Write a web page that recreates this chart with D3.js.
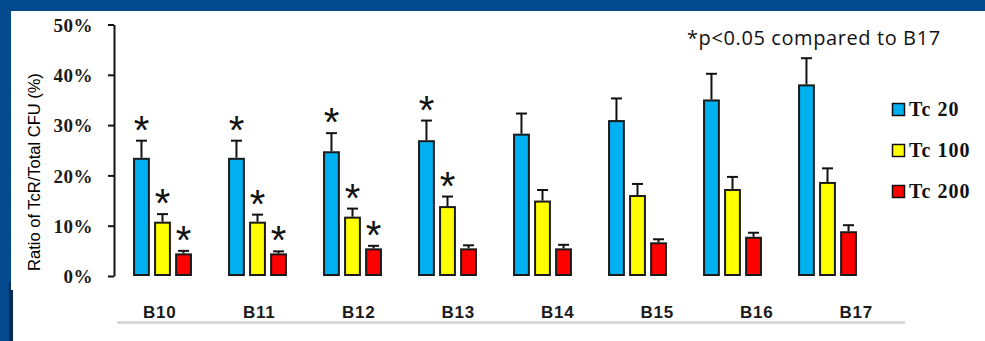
<!DOCTYPE html>
<html>
<head>
<meta charset="utf-8">
<script src="https://cdn.jsdelivr.net/npm/d3@7"></script>
<style>
  html, body { margin: 0; padding: 0; background: #02498e; }
  svg { display: block; }
</style>
</head>
<body>
<svg id="chart" width="985" height="341"></svg>
<script>
// ---- data ----
const categories = ["B10", "B11", "B12", "B13", "B14", "B15", "B16", "B17"];
const seriesNames = ["Tc 20", "Tc 100", "Tc 200"];
const tc20 = [23.3, 23.3, 24.6, 26.8, 28.1, 30.8, 34.9, 37.9];
const tc20Err = [3.6, 3.6, 3.8, 4.1, 4.2, 4.5, 5.3, 5.4];
const tc100 = [10.6, 10.6, 11.6, 13.7, 14.8, 15.9, 17.1, 18.5];
const tc100Err = [1.7, 1.6, 1.8, 2.1, 2.3, 2.4, 2.6, 2.9];
const tc200 = [4.3, 4.3, 5.3, 5.3, 5.3, 6.5, 7.6, 8.7];
const tc200Err = [0.7, 0.6, 0.7, 0.8, 0.9, 0.8, 1.0, 1.4];
const tc20Sig = [true, true, true, true, false, false, false, false];
const tc100Sig = [true, true, true, true, false, false, false, false];
const tc200Sig = [true, true, true, false, false, false, false, false];
const yTicks = [0, 10, 20, 30, 40, 50];
const yTitle = "Ratio of TcR/Total CFU (%)";
const note = "*p<0.05 compared to B17";

const colors = ["#00b0f0", "#ffff00", "#ff0000"];
const values = [tc20, tc100, tc200];
const errs = [tc20Err, tc100Err, tc200Err];
const sigs = [tc20Sig, tc100Sig, tc200Sig];

const rows = [];
categories.forEach((c, i) => {
  seriesNames.forEach((s, j) => {
    rows.push({cat: c, series: s, idx: j, value: values[j][i], err: errs[j][i], sig: sigs[j][i]});
  });
});

const svg = d3.select("#chart");

// ---- background panels ----
svg.append("rect").attr("x", 0).attr("y", 0).attr("width", 985).attr("height", 341).attr("fill", "#02498e");
svg.append("rect").attr("x", 9).attr("y", 282).attr("width", 5).attr("height", 59).attr("fill", "#0b2c52");
svg.append("rect").attr("x", 11).attr("y", 11).attr("width", 974).attr("height", 279).attr("fill", "#ffffff");
svg.append("rect").attr("x", 13).attr("y", 282).attr("width", 972).attr("height", 59).attr("fill", "#ffffff");

// ---- scales ----
const y = d3.scaleLinear().domain([0, 50]).range([276, 24.5]);
const x0 = d3.scaleBand().domain(categories).range([115, 875]).paddingInner(0.38).paddingOuter(0.19);
const x1 = d3.scaleBand().domain(seriesNames).range([0, x0.bandwidth()]).paddingInner(0.2);
const xl = d3.scaleBand().domain(categories).range([110, 906]);
const color = d3.scaleOrdinal().domain(seriesNames).range(colors);

// ---- y axis ----
const yAxis = svg.append("g")
  .attr("transform", "translate(114,0)")
  .call(d3.axisLeft(y).tickValues(yTicks).tickSize(6).tickSizeOuter(0).tickPadding(15).tickFormat(d => d + "%"));
yAxis.select(".domain").attr("stroke", "#111").attr("stroke-width", 2);
yAxis.selectAll(".tick line").attr("stroke", "#111").attr("stroke-width", 2);
yAxis.selectAll(".tick text")
  .attr("fill", "#1a1a1a")
  .attr("dy", "0.36em")
  .style("font-family", "'Liberation Serif', 'DejaVu Serif', serif")
  .style("font-weight", "bold")
  .style("font-size", "19px")
  .style("letter-spacing", "0.5px")
  .style("font-variant-numeric", "oldstyle-nums");

svg.append("text")
  .attr("transform", "translate(40,172) rotate(-90)")
  .attr("text-anchor", "middle")
  .attr("fill", "#000")
  .style("font-family", "'Liberation Sans', Arial, sans-serif")
  .style("font-size", "16.5px")
  .text(yTitle);

// ---- bars ----
const bars = svg.append("g");
bars.selectAll("rect").data(rows).join("rect")
  .attr("x", d => x0(d.cat) + x1(d.series) + 1)
  .attr("y", d => y(d.value))
  .attr("width", x1.bandwidth() - 2)
  .attr("height", d => y(0) - y(d.value) - 1)
  .attr("fill", d => color(d.series))
  .attr("stroke", "#1a1a1a")
  .attr("stroke-width", 2);

// ---- error bars ----
const eb = svg.append("g").attr("stroke", "#111").attr("stroke-width", 2);
eb.selectAll("line.v").data(rows).join("line").attr("class", "v")
  .attr("x1", d => x0(d.cat) + x1(d.series) + x1.bandwidth() / 2)
  .attr("x2", d => x0(d.cat) + x1(d.series) + x1.bandwidth() / 2)
  .attr("y1", d => y(d.value) - 1)
  .attr("y2", d => y(d.value + d.err));
eb.selectAll("line.c").data(rows).join("line").attr("class", "c")
  .attr("x1", d => x0(d.cat) + x1(d.series) + x1.bandwidth() / 2 - 5.5)
  .attr("x2", d => x0(d.cat) + x1(d.series) + x1.bandwidth() / 2 + 5.5)
  .attr("y1", d => y(d.value + d.err))
  .attr("y2", d => y(d.value + d.err));

// ---- significance stars ----
svg.append("g").selectAll("text").data(rows.filter(d => d.sig)).join("text")
  .attr("x", d => x0(d.cat) + x1(d.series) + x1.bandwidth() / 2)
  .attr("y", d => y(d.value + d.err) + 3)
  .attr("text-anchor", "middle")
  .attr("fill", "#111")
  .style("font-family", "'Liberation Sans', Arial, sans-serif")
  .style("font-size", "40px")
  .text("*");

// ---- category axis ----
const xAxis = svg.append("g")
  .attr("transform", "translate(0,303)")
  .call(d3.axisBottom(xl).tickSize(0).tickPadding(0));
xAxis.select(".domain").remove();
xAxis.selectAll(".tick text")
  .attr("fill", "#1a1a1a")
  .attr("dy", "0.9em")
  .style("font-family", "'Liberation Sans', Arial, sans-serif")
  .style("font-weight", "bold")
  .style("font-size", "17px")
  .style("letter-spacing", "0.8px");
svg.append("line")
  .attr("x1", 117).attr("x2", 905).attr("y1", 322.5).attr("y2", 322.5)
  .attr("stroke", "#d9d9d9").attr("stroke-width", 3);

// ---- note ----
svg.append("text")
  .attr("x", 687).attr("y", 45)
  .attr("fill", "#111")
  .style("font-family", "'Open Sans', sans-serif")
  .style("font-size", "20px")
  .style("letter-spacing", "0.6px")
  .text(note);

// ---- legend ----
const legend = svg.append("g").attr("transform", "translate(892,103)");
const li = legend.selectAll("g").data(seriesNames).join("g")
  .attr("transform", (d, i) => `translate(0,${i * 41})`);
li.append("rect")
  .attr("x", 0.5).attr("y", 0.5).attr("width", 12).attr("height", 12)
  .attr("fill", d => color(d)).attr("stroke", "#111").attr("stroke-width", 1.5);
li.append("text")
  .attr("x", 17).attr("y", 13)
  .attr("fill", "#111")
  .style("font-family", "'Liberation Serif', 'DejaVu Serif', serif")
  .style("font-weight", "bold")
  .style("font-size", "20px")
  .style("letter-spacing", "1px")
  .style("font-variant-numeric", "oldstyle-nums")
  .text(d => d);
</script>
</body>
</html>
